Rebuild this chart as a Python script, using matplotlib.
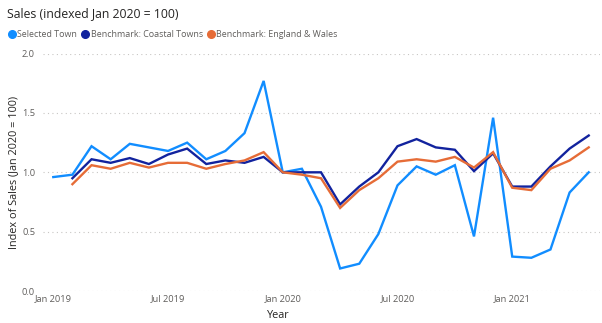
import numpy as np
import matplotlib.pyplot as plt
from matplotlib.lines import Line2D

plt.rcParams['font.family'] = ['Open Sans', 'DejaVu Sans']

# monthly index, Jan 2019 .. May 2021
months = ['Jan 2019', 'Feb 2019', 'Mar 2019', 'Apr 2019', 'May 2019', 'Jun 2019',
          'Jul 2019', 'Aug 2019', 'Sep 2019', 'Oct 2019', 'Nov 2019', 'Dec 2019',
          'Jan 2020', 'Feb 2020', 'Mar 2020', 'Apr 2020', 'May 2020', 'Jun 2020',
          'Jul 2020', 'Aug 2020', 'Sep 2020', 'Oct 2020', 'Nov 2020', 'Dec 2020',
          'Jan 2021', 'Feb 2021', 'Mar 2021', 'Apr 2021', 'May 2021']

selected_town = [0.96, 0.98, 1.22, 1.11, 1.24, 1.21, 1.18, 1.25, 1.11, 1.18, 1.33, 1.77,
                 1.00, 1.03, 0.71, 0.19, 0.23, 0.48, 0.89, 1.05, 0.98, 1.06, 0.46, 1.46,
                 0.29, 0.28, 0.35, 0.83, 1.00]
coastal_towns = [None, 0.95, 1.11, 1.08, 1.12, 1.07, 1.15, 1.20, 1.07, 1.10, 1.08, 1.13,
                 1.00, 1.00, 1.00, 0.73, 0.88, 1.00, 1.22, 1.28, 1.21, 1.19, 1.01, 1.16,
                 0.88, 0.88, 1.05, 1.20, 1.31]
england_wales = [None, 0.90, 1.06, 1.03, 1.08, 1.04, 1.08, 1.08, 1.03, 1.07, 1.10, 1.17,
                 1.00, 0.98, 0.95, 0.70, 0.85, 0.95, 1.09, 1.11, 1.09, 1.13, 1.04, 1.17,
                 0.87, 0.85, 1.03, 1.10, 1.21]

tick_months = ['Jan 2019', 'Jul 2019', 'Jan 2020', 'Jul 2020', 'Jan 2021']
series_names = ['Selected Town', 'Benchmark: Coastal Towns', 'Benchmark: England & Wales']
colors = ['#118DFF', '#12239E', '#E66C37']

x = np.arange(len(months))

fig = plt.figure(figsize=(6.02, 3.23), dpi=100)
ax = fig.add_axes([0.072, 0.099, 0.925, 0.735])

for vals, c in zip([selected_town, coastal_towns, england_wales], colors):
    v = np.array([np.nan if y is None else y for y in vals], dtype=float)
    ax.plot(x, v, color=c, lw=1.7, solid_joinstyle='miter')

ax.set_xlim(-0.52, 28.6)
ax.set_ylim(0, 2.0)
ax.set_yticks([0, 0.5, 1.0, 1.5, 2.0])
ax.set_yticklabels(['0.0', '0.5', '1.0', '1.5', '2.0'])
ax.set_xticks([months.index(m) for m in tick_months])
ax.set_xticklabels(tick_months)
ax.tick_params(length=0, labelsize=6.7, labelcolor='#605E5C')
ax.tick_params(axis='x', pad=2)
ax.tick_params(axis='y', pad=6)
ax.grid(axis='y', color='#C8C6C4', linestyle=(0, (1, 3)), lw=0.8)
ax.set_axisbelow(True)
for s in ax.spines.values():
    s.set_visible(False)

# axis titles placed by hand
fig.text(278 / 602, 1 - 316 / 323, 'Year', fontsize=7.8, color='#252423',
         ha='center', va='center')
fig.text(14 / 602, 1 - 172 / 323, 'Index of Sales (Jan 2020 = 100)', fontsize=7.8,
         color='#252423', rotation=90, ha='center', va='center')

fig.text(0.012, 0.958, 'Sales (indexed Jan 2020 = 100)', fontsize=8.8, color='#252423',
         va='center')

handles = [Line2D([], [], marker='o', linestyle='', color=c, markersize=5.5) for c in colors]
fig.legend(handles, series_names, loc='center left', bbox_to_anchor=(0.006, 0.892),
           ncol=3, frameon=False, fontsize=6.4, labelcolor='#605E5C',
           handletextpad=0.05, columnspacing=0.35, handlelength=1.1, borderaxespad=0)

fig.savefig('out.png', dpi=100)
